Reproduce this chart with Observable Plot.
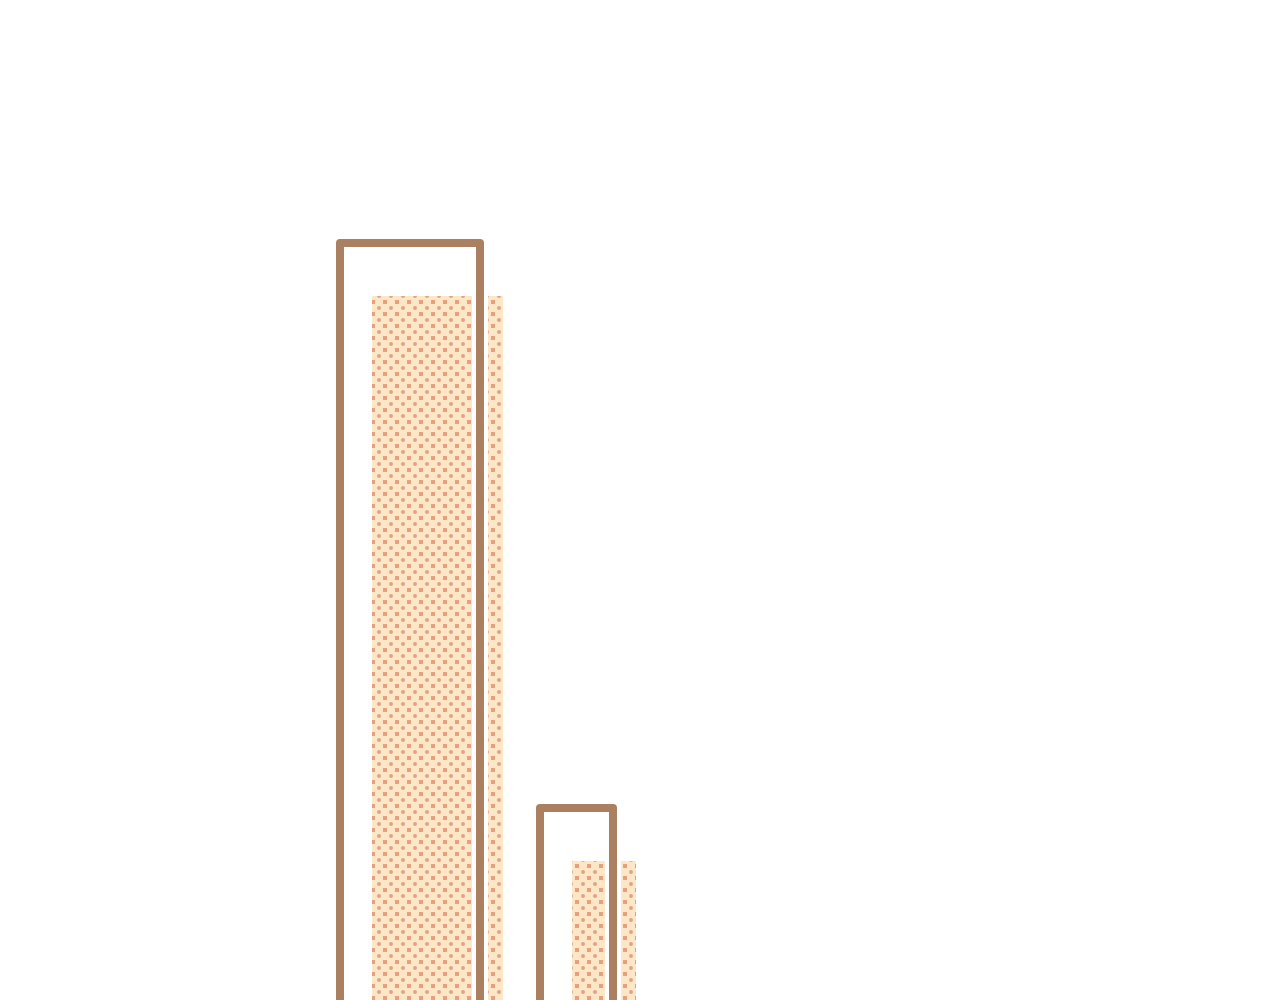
<!DOCTYPE html>
<html><head><meta charset="utf-8">
<script src="https://cdn.jsdelivr.net/npm/d3@7"></script>
<script src="https://cdn.jsdelivr.net/npm/@observablehq/plot@0.6"></script>
<style>html,body{margin:0;padding:0;background:#fff;overflow:hidden}#chart svg{display:block}</style>
</head><body><div id="chart"></div>
<script>
// Data
const categories = ["A", "B"];
const binStart = [10, 30];
const binEnd = [24, 37.3];
const values = [85.7, 29.2];

const data = categories.map((c, i) => ({category: c, x1: binStart[i], x2: binEnd[i], value: values[i]}));

const plot = Plot.plot({
  width: 1280,
  height: 1100,
  margin: 0,
  x: {domain: [-24, 104], axis: null},
  y: {domain: [0, 110], axis: null},
  marks: [
    Plot.rectY(data, {x1: "x1", x2: "x2", y: "value", fill: "url(#dots)", dx: 28, dy: 53, insetLeft: 4, insetRight: 5}),
    Plot.rectY(data, {x1: "x1", x2: "x2", y: "value", fill: "none", stroke: "white", strokeWidth: 16}),
    Plot.rectY(data, {x1: "x1", x2: "x2", y: "value", fill: "none", stroke: "#ab8060", strokeWidth: 8, strokeLinejoin: "round"})
  ]
});

const svg = d3.select(plot);
const pat = svg.insert("defs", ":first-child")
  .append("pattern")
  .attr("id", "dots")
  .attr("patternUnits", "userSpaceOnUse")
  .attr("width", 12).attr("height", 12);
pat.append("rect").attr("width", 12).attr("height", 12).attr("fill", "#fde7c6");
pat.append("circle").attr("cx", 3).attr("cy", 3).attr("r", 2).attr("fill", "#dea58c");
pat.append("rect").attr("x", 7).attr("y", 7).attr("width", 4).attr("height", 4).attr("fill", "#e89f7e");

document.getElementById("chart").appendChild(plot);
</script>
</body></html>
